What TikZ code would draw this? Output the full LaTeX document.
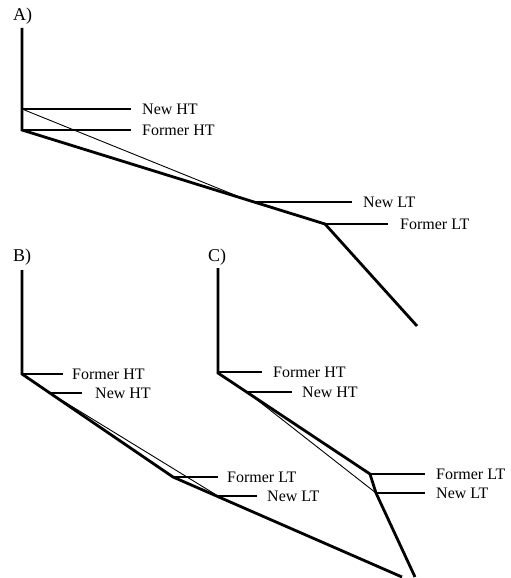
\documentclass[tikz,border=0pt]{standalone}
\usepackage{fontspec}
\setmainfont{Liberation Serif}
\begin{document}
\begin{tikzpicture}[x=1pt,y=-1pt,
  thickl/.style={line width=2.8pt,line join=miter},
  thinl/.style={line width=0.9pt},
  leader/.style={line width=1.5pt},
  lbl/.style={anchor=west,inner sep=0pt,font=\fontsize{16}{18}\selectfont},
  panel/.style={anchor=base west,inner sep=0pt,font=\fontsize{18}{20}\selectfont}]
\useasboundingbox (0,0) rectangle (511,578);
% ---------- A ----------
\node[panel] (labA) at (13,21) {A)};
\coordinate (aTop) at (22,28);
\coordinate (aFHT) at (22,130);
\coordinate (aNHT) at (22,109);
\coordinate (aNLT) at (252,202);
\coordinate (aFLT) at (325,224);
\coordinate (aEnd) at (417,326);
\node[lbl] (aNHTt) at (142,109) {New HT};
\node[lbl] (aFHTt) at (142,130) {Former HT};
\node[lbl] (aNLTt) at (363,202) {New LT};
\node[lbl] (aFLTt) at (400,224) {Former LT};
\coordinate (aNHTe) at (131,109);
\coordinate (aFHTe) at (131,130);
\coordinate (aNLTe) at (352,202);
\coordinate (aFLTe) at (388,224);
\draw[leader] (aNHT) -- (aNHTe);
\draw[leader] (aFHT) -- (aFHTe);
\draw[leader] (aNLT) -- (aNLTe);
\draw[leader] (aFLT) -- (aFLTe);
\draw[thinl] (aNHT) -- (aNLT);
\draw[thickl] (aTop) -- (aFHT) -- (aFLT) -- (aEnd);
% ---------- B ----------
\node[panel] (labB) at (13,261) {B)};
\coordinate (bTop) at (22,270);
\coordinate (bFHT) at (22,374);
\coordinate (bNHT) at (50,393);
\coordinate (bFLT) at (173,477);
\coordinate (bNLT) at (218,496);
\coordinate (bEnd) at (402,577);
\node[lbl] (bFHTt) at (72,374) {Former HT};
\node[lbl] (bNHTt) at (95,393) {New HT};
\node[lbl] (bFLTt) at (227,477) {Former LT};
\node[lbl] (bNLTt) at (267,496) {New LT};
\coordinate (bFHTe) at (63,374);
\coordinate (bNHTe) at (82,393);
\coordinate (bFLTe) at (218,477);
\coordinate (bNLTe) at (257,496);
\draw[leader] (bFHT) -- (bFHTe);
\draw[leader] (bNHT) -- (bNHTe);
\draw[leader] (bFLT) -- (bFLTe);
\draw[leader] (bNLT) -- (bNLTe);
\draw[thinl] (bNHT) -- (bNLT);
\draw[thickl] (bTop) -- (bFHT) -- (bFLT) -- (bEnd);
% ---------- C ----------
\node[panel] (labC) at (208,261) {C)};
\coordinate (cTop) at (218,268);
\coordinate (cFHT) at (218,373);
\coordinate (cNHT) at (247,392);
\coordinate (cFLT) at (370,474);
\coordinate (cNLT) at (376,493);
\coordinate (cEnd) at (415,577);
\node[lbl] (cFHTt) at (273,372) {Former HT};
\node[lbl] (cNHTt) at (302,392) {New HT};
\node[lbl] (cFLTt) at (436,474) {Former LT};
\node[lbl] (cNLTt) at (436,493) {New LT};
\coordinate (cFHTe) at (262,372);
\coordinate (cNHTe) at (292,392);
\coordinate (cFLTe) at (425,474);
\coordinate (cNLTe) at (425,493);
\draw[leader] (218,372) -- (cFHTe);
\draw[leader] (cNHT) -- (cNHTe);
\draw[leader] (cFLT) -- (cFLTe);
\draw[leader] (cNLT) -- (cNLTe);
\draw[thinl] (cNHT) -- (cNLT);
\draw[thickl] (cTop) -- (cFHT) -- (cFLT) -- (cNLT) -- (cEnd);
\end{tikzpicture}
\end{document}
